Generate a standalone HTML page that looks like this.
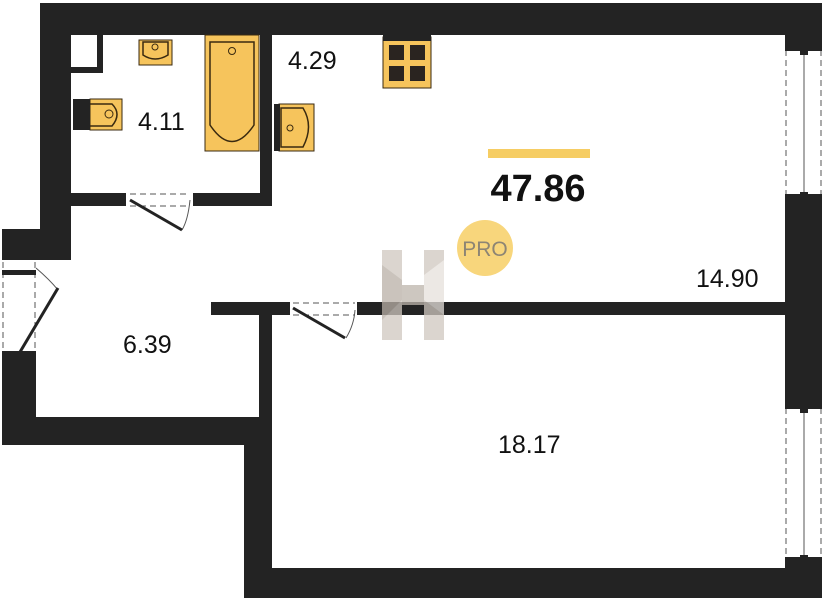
<!DOCTYPE html>
<html><head><style>body{margin:0;background:#fff}svg{display:block}text{font-family:"Liberation Sans",sans-serif}</style></head><body>
<svg width="825" height="600" viewBox="0 0 825 600">
<g fill="#232323">
<rect x="40" y="3" width="782" height="32"/>
<rect x="40" y="3" width="31" height="257"/>
<rect x="2" y="229" width="38" height="31"/>
<rect x="2" y="353" width="34" height="92"/>
<rect x="2" y="417" width="270" height="28"/>
<rect x="244" y="417" width="28" height="181"/>
<rect x="259" y="313" width="13" height="110"/>
<rect x="244" y="568" width="578" height="30"/>
<rect x="211" y="302" width="79" height="13"/>
<rect x="357" y="302" width="430" height="13"/>
<rect x="785" y="3" width="37" height="44"/>
<rect x="785" y="197" width="37" height="208"/>
<rect x="785" y="560" width="37" height="38"/>
<rect x="260" y="35" width="12" height="171"/>
<rect x="71" y="193" width="55" height="13"/>
<rect x="193" y="193" width="79" height="13"/>
<rect x="71" y="35" width="32" height="38"/>
</g>
<rect x="71" y="35" width="26" height="32" fill="#fff"/>
<g stroke="#555" stroke-width="1" fill="none">
<path d="M786 50V195M821 50V195M786 408V558M821 408V558" stroke-dasharray="6,4"/>
<path d="M804 52V193M804 410V556"/>
<path d="M3 262V351M35 262V351" stroke-dasharray="6,4"/>
<path d="M130 194H190M130 206H190M293 303H355M293 315H355" stroke-dasharray="6,4"/>
<path d="M190 200 Q188 220 182 230M355 310 Q354 325 346 338M36 268 Q50 280 58 290"/>
</g>
<g fill="#232323">
<rect x="800" y="50" width="8" height="5"/><rect x="800" y="192" width="8" height="5"/>
<rect x="800" y="408" width="8" height="5"/><rect x="800" y="555" width="8" height="5"/>
<rect x="785" y="47" width="37" height="4"/><rect x="785" y="194" width="37" height="4"/>
<rect x="785" y="405" width="37" height="4"/><rect x="785" y="557" width="37" height="4"/>
<rect x="2" y="351" width="34" height="5"/><rect x="2" y="270" width="34" height="5"/>
</g>
<g stroke="#232323" stroke-width="3">
<line x1="130" y1="200" x2="182" y2="230"/>
<line x1="293" y1="308" x2="345" y2="338"/>
<line x1="20" y1="352" x2="58" y2="288"/>
</g>
<g fill="#f6c45c" stroke="#3a2a10" stroke-width="1">
<rect x="139" y="40" width="33" height="25"/>
<path d="M143 42H168V55Q155 63 143 55Z" fill="none" stroke-width="1.5"/>
<rect x="205" y="35" width="54" height="116"/>
<path d="M210 42H254V125Q232 158 210 125Z" fill="none" stroke-width="1.5"/>
<rect x="90" y="99" width="32" height="31"/>
<path d="M90 104H112Q122 114 112 126H90" fill="none" stroke-width="1.5"/>
<rect x="279" y="104" width="35" height="47"/>
<path d="M281 108H303Q314 126 303 147H281Z" fill="none" stroke-width="1.5"/>
<rect x="383" y="37" width="48" height="51"/>
</g>
<rect x="73" y="99" width="17" height="31" fill="#232323"/>
<rect x="274" y="104" width="6" height="47" fill="#232323"/>
<rect x="383" y="35" width="48" height="6" fill="#232323"/>
<g fill="#2a2420"><rect x="389" y="45" width="15" height="15"/><rect x="410" y="45" width="15" height="15"/><rect x="389" y="66" width="15" height="15"/><rect x="410" y="66" width="15" height="15"/></g>
<g fill="none" stroke="#3a2a10" stroke-width="1"><circle cx="155" cy="47" r="3"/><circle cx="232" cy="51" r="3.5"/><circle cx="109" cy="114" r="4"/><circle cx="290" cy="128" r="3"/></g>
<g opacity="0.75">
<rect x="382" y="250" width="20" height="90" fill="#cfc8c0"/>
<rect x="424" y="250" width="20" height="90" fill="#cfc8c0"/>
<rect x="402" y="285" width="22" height="20" fill="#bdb5ac"/>
<path d="M382 265L402 280V300L382 320Z" fill="#b9b0a6"/>
<path d="M444 260L424 275V300L444 315Z" fill="#e6e1dc"/>
</g>
<rect x="488" y="149" width="102" height="9" fill="#f6cd63"/>
<circle cx="485" cy="248" r="28" fill="#f8d67c"/>
<text x="485" y="256" font-size="21" fill="#8d8574" text-anchor="middle">PRO</text>
<text x="538" y="201" font-size="38" font-weight="bold" fill="#111" text-anchor="middle">47.86</text>
<g font-size="25" fill="#111">
<text x="288" y="69">4.29</text>
<text x="138" y="130">4.11</text>
<text x="696" y="287">14.90</text>
<text x="123" y="353">6.39</text>
<text x="498" y="453">18.17</text>
</g>
</svg>
</body></html>
